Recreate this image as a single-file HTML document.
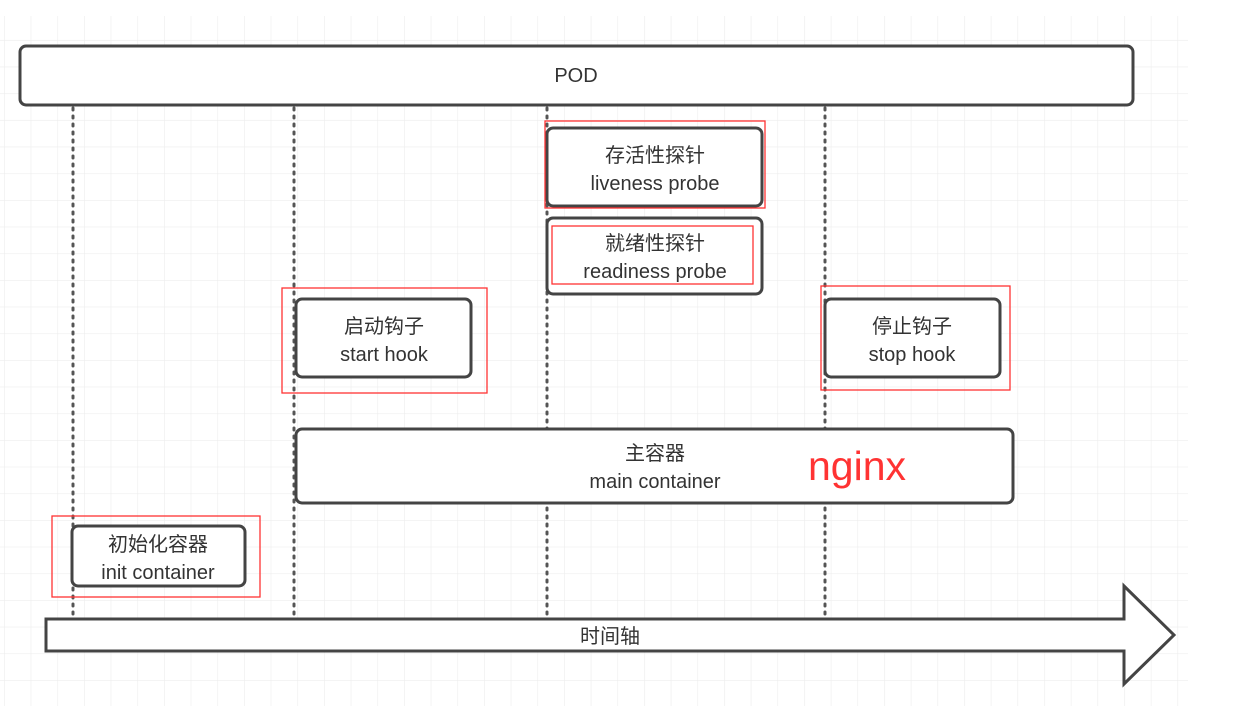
<!DOCTYPE html>
<html><head><meta charset="utf-8"><style>
html,body{margin:0;padding:0;background:#fff;width:1250px;height:706px;overflow:hidden}
svg text{font-family:"Liberation Sans","Noto Sans CJK SC",sans-serif;fill:#333;text-anchor:middle}
</style></head><body>
<svg width="1250" height="706" xmlns="http://www.w3.org/2000/svg">
<defs>
<pattern id="g" x="4" y="13.3" width="26.67" height="26.67" patternUnits="userSpaceOnUse">
<path d="M0 0V26.67M0 0H26.67" stroke="#ededed" stroke-width="1.2" fill="none"/>
</pattern>
</defs>
<rect x="0" y="16" width="1188" height="690" fill="url(#g)"/>
<g stroke="#555" stroke-width="3" stroke-dasharray="2 6" stroke-linecap="round">
<line x1="73" y1="108" x2="73" y2="620"/>
<line x1="294" y1="108" x2="294" y2="620"/>
<line x1="547" y1="108" x2="547" y2="620"/>
<line x1="825" y1="108" x2="825" y2="620"/>
</g>
<g fill="#fff" stroke="#444" stroke-width="3">
<rect x="20" y="46" width="1113" height="59" rx="6"/>
<rect x="547" y="128" width="215" height="78" rx="6"/>
<rect x="547" y="218" width="215" height="76" rx="6"/>
<rect x="296" y="299" width="175" height="78" rx="6"/>
<rect x="825" y="299" width="175" height="78" rx="6"/>
<rect x="296" y="429" width="717" height="74" rx="6"/>
<rect x="72" y="526" width="173" height="60" rx="6"/>
<path d="M46 619H1124V586L1174 635L1124 684V651H46Z" stroke-linejoin="miter"/>
</g>
<g fill="none" stroke="#f33" stroke-width="1.3">
<rect x="545" y="121" width="220" height="87"/>
<rect x="552" y="226" width="201" height="58"/>
<rect x="282" y="288" width="205" height="105"/>
<rect x="821" y="286" width="189" height="104"/>
<rect x="52" y="516" width="208" height="81"/>
</g>
<g font-size="20">
<text x="576" y="82">POD</text>
<text x="655" y="162">存活性探针</text>
<text x="655" y="190">liveness probe</text>
<text x="655" y="250">就绪性探针</text>
<text x="655" y="278">readiness probe</text>
<text x="384" y="333">启动钩子</text>
<text x="384" y="361">start hook</text>
<text x="912" y="333">停止钩子</text>
<text x="912" y="361">stop hook</text>
<text x="655" y="460">主容器</text>
<text x="655" y="488">main container</text>
<text x="158" y="551">初始化容器</text>
<text x="158" y="579">init container</text>
<text x="610" y="643">时间轴</text>
</g>
<text x="857" y="480" font-size="41" style="fill:#f33">nginx</text>
</svg>
</body></html>
